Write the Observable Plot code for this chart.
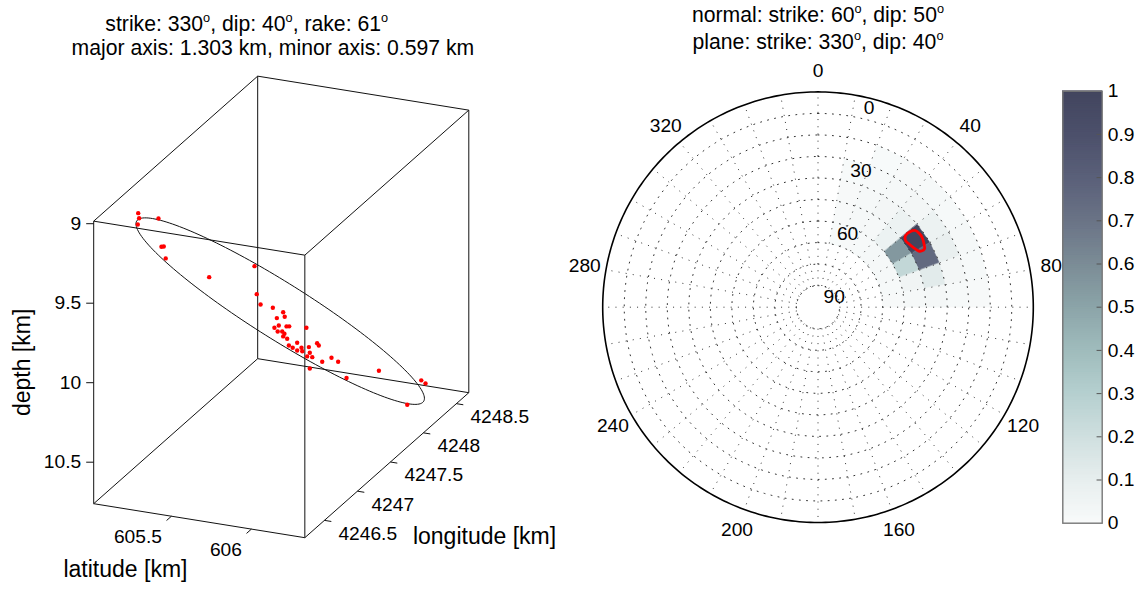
<!DOCTYPE html>
<html><head><meta charset="utf-8">
<script src="https://cdn.jsdelivr.net/npm/d3@7"></script>
<script src="https://cdn.jsdelivr.net/npm/@observablehq/plot@0.6"></script>
<style>
body{margin:0;background:#fff;font-family:"Liberation Sans",Arial,Helvetica,sans-serif;}
#wrap{position:relative;width:1136px;height:589px;overflow:hidden;background:#fff;}
.t{position:absolute;width:500px;font-size:21.2px;line-height:21.2px;white-space:nowrap;text-align:center;color:#000;}
.t sup{font-size:0.6em;line-height:0;vertical-align:9px;}
.p{position:absolute;top:60px;}
</style></head><body>
<div id="wrap">
  <div class="t" style="left:-3.3px;top:13.2px">strike: 330<sup>o</sup>, dip: 40<sup>o</sup>, rake: 61<sup>o</sup></div>
  <div class="t" style="left:22.9px;top:37.2px">major axis: 1.303 km, minor axis: 0.597 km</div>
  <div class="t" style="left:568px;top:3.8px">normal: strike: 60<sup>o</sup>, dip: 50<sup>o</sup></div>
  <div class="t" style="left:568px;top:30.5px">plane: strike: 330<sup>o</sup>, dip: 40<sup>o</sup></div>
  <div class="p" id="left" style="left:0px"></div>
  <div class="p" id="right" style="left:560px"></div>
  <div class="p" id="cbar" style="left:1061px"></div>
</div>
<script>
// ---------------- data: left panel (3-D hypocentres) ----------------
const latRange = [605.014, 606.334];
const lonRange = [4246.203, 4248.688];
const depthRange = [8.984, 10.761];
const depthTicks = [9, 9.5, 10, 10.5];
const latTicks = [605.5, 606];
const lonTicks = [4246.5, 4247, 4247.5, 4248, 4248.5];

const evLat = [605.015, 605.055, 605.109, 605.037, 605.268, 605.263, 605.360, 605.469, 605.330, 605.559,
  605.641, 605.655, 605.680, 605.716, 605.737, 605.818, 605.795, 605.795, 605.792, 605.784,
  605.845, 605.841, 605.857, 605.881, 605.896, 605.950, 605.964, 605.918, 605.955, 605.982,
  605.983, 605.943, 605.988, 606.022, 606.021, 605.900, 605.918, 606.049, 606.006, 606.032,
  606.118, 606.159, 606.064, 606.099, 606.119, 606.315];
const evLon = [4246.875, 4246.792, 4246.641, 4247.129, 4246.614, 4246.661, 4246.456, 4246.850, 4247.874, 4247.353,
  4247.212, 4247.364, 4247.460, 4247.396, 4247.226, 4246.993, 4247.115, 4247.232, 4247.280, 4247.560,
  4246.977, 4247.055, 4247.050, 4246.973, 4246.997, 4246.892, 4246.916, 4247.095, 4247.071, 4246.940,
  4247.015, 4247.212, 4247.117, 4247.072, 4246.997, 4247.441, 4247.423, 4247.157, 4247.402, 4247.440,
  4246.802, 4247.259, 4247.980, 4248.537, 4248.553, 4247.801];
const evDepth = [9.180, 9.175, 9.150, 9.303, 9.255, 9.271, 9.255, 9.500, 9.829, 9.777,
  9.777, 9.851, 9.910, 9.909, 9.852, 9.814, 9.848, 9.897, 9.915, 10.028,
  9.827, 9.857, 9.866, 9.851, 9.872, 9.867, 9.888, 9.930, 9.946, 9.911,
  9.943, 9.996, 9.989, 9.995, 9.963, 10.062, 10.067, 10.051, 10.122, 10.157,
  9.952, 10.173, 10.407, 10.666, 10.688, 10.514];

const ellipseCenter = [605.675, 4247.427, 9.892]; // latitude, longitude, depth
const planeStrike = 330, planeDip = 40, planeRake = 61;
const majorAxis = 1.303, minorAxis = 0.597;

// ---------------- data: right panel (stereonet of normals) ----------------
const cellStrikes = [10, 20, 30, 40, 50, 60, 70, 80];       // bin start, degrees
const cellDips = [20, 30, 40, 50, 60];                       // bin start, degrees
const cellValues = [                                        // rows = strikes, cols = dips
  [0.000, 0.004, 0.008, 0.008, 0.004],
  [0.004, 0.010, 0.015, 0.015, 0.008],
  [0.008, 0.015, 0.030, 0.020, 0.010],
  [0.010, 0.030, 0.070, 0.070, 0.015],
  [0.010, 0.070, 1.000, 0.550, 0.020],
  [0.015, 0.090, 0.750, 0.250, 0.020],
  [0.010, 0.030, 0.120, 0.050, 0.012],
  [0.006, 0.012, 0.025, 0.015, 0.006]
];
const contourStrike = [50.7, 50.7, 51.8, 54.0, 56.2, 59.0, 61.3, 61.5, 60.9, 58.0, 54.9, 52.7];
const contourDip = [47.5, 44.5, 42.4, 41.8, 41.8, 42.6, 43.6, 45.3, 46.4, 47.7, 48.6, 48.9];
const azimuthTicks = [0, 40, 80, 120, 160, 200, 240, 280, 320];
const dipTicks = [0, 30, 60, 90];
const ringDips = [10, 20, 30, 40, 50, 60, 70, 80, 90];

// colour bar
const colorStops = [0, 0.1, 0.2, 0.3, 0.4, 0.5, 0.6, 0.7, 0.8, 0.9, 1];
const colorRange = ["#f8fafa", "#e7eeee", "#cfdfdf", "#b5cfcf", "#9fbcbc", "#8ba4a8",
                    "#7b8c96", "#6a7386", "#5a6079", "#4c506b", "#42455e"];
const cbarTicks = [0, 0.1, 0.2, 0.3, 0.4, 0.5, 0.6, 0.7, 0.8, 0.9, 1];

// ---------------- shared ----------------
const FONT = '"Liberation Sans", Arial, Helvetica, sans-serif';
const TICK_FS = 19.2, LABEL_FS = 23;
const rad = Math.PI / 180;
const colorOpts = {type: "linear", domain: colorStops, range: colorRange, interpolate: "rgb"};

// ---------------- left panel ----------------
// orthographic view: screen direction of one unit along each data axis (depth = 1)
const VIEW = {lat: [1.006, 0.162], lon: [0.415, -0.367], depth: [0, 1]};
function proj(la, lo, de) {
  const a = la - latRange[0], b = lo - lonRange[0], c = de - depthRange[0];
  return [VIEW.lat[0] * a + VIEW.lon[0] * b + VIEW.depth[0] * c,
          VIEW.lat[1] * a + VIEW.lon[1] * b + VIEW.depth[1] * c];
}
const LW = 560, LH = 529, X0 = 93.2, Y0 = 160.65, PX = 159;
const corners = [];
for (let i = 0; i < 8; ++i) corners.push([latRange[i & 1], lonRange[(i >> 1) & 1], depthRange[(i >> 2) & 1]]);
const edgeData = [];
for (let i = 0; i < 8; ++i) for (const bit of [1, 2, 4]) if (!(i & bit)) {
  const p = proj(...corners[i]), q = proj(...corners[i | bit]);
  edgeData.push({x1: p[0], y1: p[1], x2: q[0], y2: q[1]});
}
const cu = corners.map(c => proj(...c));
const xDom = d3.extent(cu, d => d[0]), yDom = d3.extent(cu, d => d[1]);

// ellipse in the fault plane
const sv = [Math.sin(planeStrike * rad), Math.cos(planeStrike * rad), 0];
const dv = [Math.cos(planeDip * rad) * Math.sin((planeStrike + 90) * rad),
            Math.cos(planeDip * rad) * Math.cos((planeStrike + 90) * rad),
            Math.sin(planeDip * rad)];
const mv = sv.map((s, i) => Math.cos(planeRake * rad) * s + Math.sin(planeRake * rad) * dv[i]);
const nv = sv.map((s, i) => -Math.sin(planeRake * rad) * s + Math.cos(planeRake * rad) * dv[i]);
const ellipse = d3.range(0, 361, 2).map(t => {
  const c = Math.cos(t * rad) * majorAxis, s = Math.sin(t * rad) * minorAxis;
  const p = proj(ellipseCenter[0] + c * mv[0] + s * nv[0],
                 ellipseCenter[1] + c * mv[1] + s * nv[1],
                 ellipseCenter[2] + c * mv[2] + s * nv[2]);
  return {x: p[0], y: p[1]};
});
const events = evLat.map((la, i) => { const p = proj(la, evLon[i], evDepth[i]); return {x: p[0], y: p[1]}; });

const [la0, la1] = latRange, [lo0, lo1] = lonRange, [de0, de1] = depthRange;
const depthTickPts = depthTicks.map(d => { const p = proj(la0, lo0, d); return {v: d, x: p[0], y: p[1]}; });
const latTickPts = latTicks.map(v => { const p = proj(v, lo0, de1), q = proj(v, lo0 - 0.074, de1); return {v, x: p[0], y: p[1], x2: q[0], y2: q[1]}; });
const lonTickPts = lonTicks.map(v => { const p = proj(la1, v, de1), q = proj(la1 + 0.043, v, de1); return {v, x: p[0], y: p[1], x2: q[0], y2: q[1]}; });
const depthLab = proj(la0, lo0, (de0 + de1) / 2);
const latLab = proj((la0 + la1) / 2, lo0, de1);
const lonLab = proj(la1, (lo0 + lo1) / 2, de1);

const left = Plot.plot({
  width: LW, height: LH, margin: 0,
  style: {fontFamily: FONT, fontSize: TICK_FS + "px", background: "transparent", overflow: "visible", color: "#000"},
  x: {domain: xDom, range: xDom.map(u => X0 + PX * u), axis: null},
  y: {domain: yDom, range: yDom.map(v => Y0 + PX * v), axis: null},
  marks: [
    Plot.link(edgeData, {x1: "x1", y1: "y1", x2: "x2", y2: "y2", stroke: "#111", strokeWidth: 1}),
    Plot.line(ellipse, {x: "x", y: "y", stroke: "#111", strokeWidth: 1}),
    Plot.dot(events, {x: "x", y: "y", r: 2.2, fill: "#ff0000", stroke: "none"}),
    Plot.link(depthTickPts, {x1: "x", y1: "y", x2: d => d.x - 7.5 / PX, y2: "y", stroke: "#111", strokeWidth: 1}),
    Plot.text(depthTickPts, {x: "x", y: "y", text: d => String(d.v), textAnchor: "end", dx: -12.5, fontSize: TICK_FS}),
    Plot.link(latTickPts, {x1: "x", y1: "y", x2: "x2", y2: "y2", stroke: "#111", strokeWidth: 1}),
    Plot.text(latTickPts, {x: "x", y: "y", text: d => String(d.v), textAnchor: "end", dx: -9.5, dy: 20.3, fontSize: TICK_FS}),
    Plot.link(lonTickPts, {x1: "x", y1: "y", x2: "x2", y2: "y2", stroke: "#111", strokeWidth: 1}),
    Plot.text(lonTickPts, {x: "x", y: "y", text: d => String(d.v), textAnchor: "start", dx: 14, dy: 13.3, fontSize: TICK_FS}),
    Plot.text(["depth [km]"], {x: () => depthLab[0], y: () => depthLab[1], text: d => d, rotate: -90, dx: -70.7, fontSize: LABEL_FS}),
    Plot.text(["latitude [km]"], {x: () => latLab[0], y: () => latLab[1], text: d => d, dx: -73.8, dy: 48.8, fontSize: LABEL_FS}),
    Plot.text(["longitude [km]"], {x: () => lonLab[0], y: () => lonLab[1], text: d => d, dx: 97.7, dy: 71.1, fontSize: LABEL_FS})
  ]
});
document.getElementById("left").appendChild(left);

// ---------------- right panel ----------------
const RW = 501, RH = 529, RCX = 257.5, RCY = 246.7, K = 2.153;
const RMAX = 100; // plotted radius = RMAX - dip
function polar(az, dp) { const r = RMAX - dp; return [r * Math.sin(az * rad), r * Math.cos(az * rad)]; }

const cellPts = [];
cellStrikes.forEach((s, i) => cellDips.forEach((d, j) => {
  const v = cellValues[i][j];
  if (!(v > 0)) return;
  const id = i + "-" + j;
  for (const [a, b] of [[s, d], [s + 10, d], [s + 10, d + 10], [s, d + 10]]) {
    const p = polar(a, b); cellPts.push({id, v, x: p[0], y: p[1]});
  }
}));
const ringPts = [];
for (const d of ringDips) for (let a = 0; a <= 360; a += 2) { const p = polar(a, d); ringPts.push({d, x: p[0], y: p[1]}); }
const rimPts = d3.range(0, 361, 1).map(a => { const p = polar(a, 0); return {x: p[0], y: p[1]}; });
const spokes = d3.range(0, 360, 10).map(a => { const p = polar(a, 90), q = polar(a, 0); return {x1: p[0], y1: p[1], x2: q[0], y2: q[1]}; });
const contour = contourStrike.map((s, i) => { const p = polar(s, contourDip[i]); return {x: p[0], y: p[1]}; });
const azLab = azimuthTicks.map(a => { const p = polar(a, -10); return {t: String(a), x: p[0], y: p[1]}; });
const dipLab = dipTicks.map(d => { const p = polar(12, d); return {t: String(d), x: p[0], y: p[1]}; });

const right = Plot.plot({
  width: RW, height: RH, margin: 0,
  style: {fontFamily: FONT, fontSize: TICK_FS + "px", background: "transparent", overflow: "visible", color: "#000"},
  x: {domain: [-RCX / K, (RW - RCX) / K], range: [0, RW], axis: null},
  y: {domain: [(RCY - RH) / K, RCY / K], range: [RH, 0], axis: null},
  color: colorOpts,
  marks: [
    Plot.line(cellPts, {x: "x", y: "y", z: "id", fill: "v", stroke: "v", strokeWidth: 0.5, curve: "linear-closed"}),
    Plot.line(ringPts, {x: "x", y: "y", z: "d", stroke: "#333", strokeWidth: 1, strokeDasharray: "1 6.2"}),
    Plot.link(spokes, {x1: "x1", y1: "y1", x2: "x2", y2: "y2", stroke: "#333", strokeWidth: 1, strokeDasharray: "1 6.2"}),
    Plot.line(rimPts, {x: "x", y: "y", stroke: "#000", strokeWidth: 1.6}),
    Plot.line(contour, {x: "x", y: "y", stroke: "#ff0000", strokeWidth: 2.8, curve: "catmull-rom-closed"}),
    Plot.text(azLab, {x: "x", y: "y", text: "t", fontSize: TICK_FS}),
    Plot.text(dipLab, {x: "x", y: "y", text: "t", textAnchor: "start", dx: 1, dy: 11, fontSize: TICK_FS})
  ]
});
document.getElementById("right").appendChild(right);

// ---------------- colour bar ----------------
const slices = d3.range(0, 1, 0.005).map(v => ({y1: v, y2: v + 0.005, v: v + 0.0025}));
const cbar = Plot.plot({
  width: 75, height: 529,
  marginLeft: 1.3, marginRight: 34.3, marginTop: 30.7, marginBottom: 66.3,
  style: {fontFamily: FONT, fontSize: TICK_FS + "px", background: "transparent", overflow: "visible", color: "#000"},
  x: {domain: [0, 1], axis: null},
  y: {domain: [0, 1], axis: null},
  color: colorOpts,
  marks: [
    Plot.rect(slices, {x1: 0, x2: 1, y1: "y1", y2: "y2", fill: "v", stroke: "v", strokeWidth: 0.6, shapeRendering: "crispEdges"}),
    Plot.ruleY(cbarTicks.filter(t => t > 0 && t < 1), {y: d => d, x1: 0.87, x2: 1, stroke: "#555", strokeWidth: 1}),
    Plot.frame({stroke: "#777", strokeWidth: 1.4}),
    Plot.text(cbarTicks, {x: 1, y: d => d, text: d => d3.format("~g")(d), textAnchor: "start", dx: 5.6, fontSize: TICK_FS})
  ]
});
document.getElementById("cbar").appendChild(cbar);
</script>
</body></html>
